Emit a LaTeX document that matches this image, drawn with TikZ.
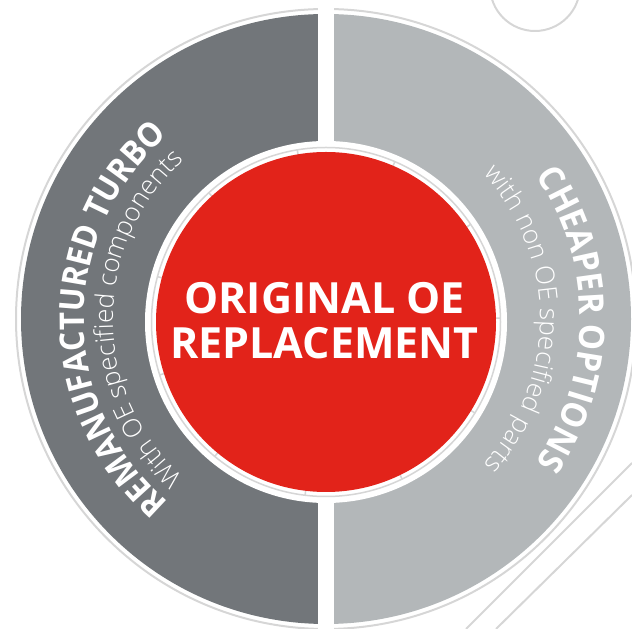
\documentclass[tikz,border=0pt]{standalone}
\usepackage{fontspec}
\usetikzlibrary{decorations.text}
\setmainfont{Open Sans}
\newfontfamily\oslight{Open Sans Light}
\newfontfamily\osboldL{Open Sans}[FakeStretch=0.92]
\newfontfamily\osboldR{Open Sans}[FakeStretch=0.94]
\definecolor{dgray}{HTML}{72767A}
\definecolor{lgray}{HTML}{B3B7B9}
\definecolor{oered}{HTML}{E2231A}
\definecolor{ringgray}{HTML}{D6D6D6}
\newcommand{\boldarcL}{\osboldL\bfseries\fontsize{34}{34}\selectfont}
\newcommand{\boldarcR}{\osboldR\bfseries\fontsize{35}{35}\selectfont}
\newcommand{\lightarc}{\oslight\fontsize{26}{26}\selectfont}
\begin{document}
\begin{tikzpicture}[x=1pt,y=1pt,
  thinline/.style={draw=ringgray, line width=2pt},
  centertext/.style={text=white, font=\bfseries\fontsize{43}{43}\selectfont, anchor=base, inner sep=0pt}]
\useasboundingbox (0,0) rectangle (632,629);
\clip (0,0) rectangle (632,629);
\coordinate (C) at (326,310);
\coordinate (R) at (326,307);
% outer ring line
\draw[thinline] (C) circle[radius=310];
% halves
\fill[dgray] ([shift={(90:305)}]C) arc[start angle=90,end angle=270,radius=305] -- cycle;
\fill[lgray] ([shift={(-90:305)}]C) arc[start angle=-90,end angle=90,radius=305] -- cycle;
% gap
\fill[white] (318,0) rectangle (334,629);
% white ring around red
\fill[white] (R) circle[radius=181];
\draw[ringgray, line width=1.5pt] (R) circle[radius=174.5];
\foreach \a in {0,...,10}
  \draw[ringgray, line width=1.5pt] ([shift={(1.3+\a*32.727:168)}]R) -- ([shift={(1.3+\a*32.727:175)}]R);
% red disc
\fill[oered] (R) circle[radius=170];
% center text
\node[centertext] (t1) at (324.5,315) {ORIGINAL OE};
\node[centertext] (t2) at (324.5,270) {REPLACEMENT};
% curved texts
\path[decorate, decoration={text along path, text color=white, text align=center,
  text={|\boldarcL|REMANUFACTURED TURBO}}]
  ([shift={(260:242)}]C) arc[start angle=260, end angle=100, radius=242];
\path[decorate, decoration={text along path, text color=white, text align=center,
  text={|\lightarc|With OE specified components}}]
  ([shift={(260:213)}]C) arc[start angle=260, end angle=100, radius=213];
\path[decorate, decoration={text along path, text color=white, text align=center,
  text={|\boldarcR|CHEAPER OPTIONS}}]
  ([shift={(80:254)}]C) arc[start angle=80, end angle=-80, radius=254];
\path[decorate, decoration={text along path, text color=white, text align=center,
  text={|\lightarc|with non OE specified parts}}]
  ([shift={(80:214)}]C) arc[start angle=80, end angle=-80, radius=214];
% decorative outlines
\draw[thinline] (535,643) circle[radius=45];
\draw[thinline] (632,166) -- (466,0);
\draw[thinline] (632,134) -- (496,0);
\end{tikzpicture}
\end{document}
